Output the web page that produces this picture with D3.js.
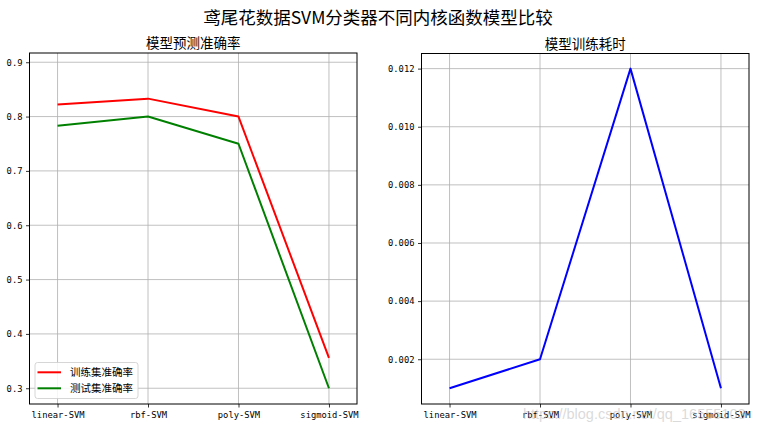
<!DOCTYPE html>
<html>
<head>
<meta charset="utf-8">
<script src="https://cdn.jsdelivr.net/npm/d3@7"></script>
<style>
  html, body { margin: 0; padding: 0; background: #fff; }
  svg { display: block; }
</style>
</head>
<body>
<svg id="chart" width="776" height="431"></svg>
<script>
const categories = ["linear-SVM", "rbf-SVM", "poly-SVM", "sigmoid-SVM"];
const trainAcc = [0.822, 0.833, 0.800, 0.356];
const testAcc = [0.783, 0.800, 0.750, 0.300];
const trainTime = [0.001, 0.002, 0.012, 0.001];
const accTicks = [0.3, 0.4, 0.5, 0.6, 0.7, 0.8, 0.9];
const timeTicks = [0.002, 0.004, 0.006, 0.008, 0.010, 0.012];
const mainTitle = "鸢尾花数据SVM分类器不同内核函数模型比较";
const leftTitle = "模型预测准确率";
const rightTitle = "模型训练耗时";
const legendLabels = ["训练集准确率", "测试集准确率"];
const watermark = "https://blog.csdn.net/qq_16555103";

const svg = d3.select("#chart");
const cjk = "'Noto Sans CJK SC', 'Noto Sans', sans-serif";
const mono = "'DejaVu Sans Mono', 'Liberation Mono', monospace";

svg.append("text")
  .attr("x", 378).attr("y", 23.5)
  .attr("text-anchor", "middle")
  .attr("font-family", cjk).attr("font-size", 17.5)
  .attr("fill", "#000")
  .text(mainTitle);

function panel(opts) {
  const { x0, x1, y0, y1, yDomain, ticks, fmt, title, series } = opts;
  const g = svg.append("g");
  const x = d3.scaleLinear().domain([-0.31, 3.31]).range([x0, x1]);
  const y = d3.scaleLinear().domain(yDomain).range([y1, y0]);

  // grid
  g.append("g").selectAll("line.vx").data(categories).join("line")
    .attr("x1", (d, i) => x(i)).attr("x2", (d, i) => x(i))
    .attr("y1", y0).attr("y2", y1)
    .attr("stroke", "#b0b0b0").attr("stroke-width", 0.8);
  g.append("g").selectAll("line.hy").data(ticks).join("line")
    .attr("x1", x0).attr("x2", x1)
    .attr("y1", d => y(d)).attr("y2", d => y(d))
    .attr("stroke", "#b0b0b0").attr("stroke-width", 0.8);

  // lines
  const line = d3.line().x((d, i) => x(i)).y(d => y(d));
  series.forEach(s => {
    g.append("path").datum(s.values)
      .attr("d", line)
      .attr("fill", "none")
      .attr("stroke", s.color)
      .attr("stroke-width", 2)
      .attr("stroke-linejoin", "round");
  });

  // axes
  const xAxis = d3.axisBottom(x).tickValues(d3.range(categories.length))
    .tickFormat(i => categories[i]).tickSize(3.5).tickPadding(4);
  const gx = g.append("g").attr("transform", `translate(0,${y1})`).call(xAxis);
  gx.select(".domain").remove();
  gx.selectAll("text").attr("font-family", mono).attr("font-size", 8.8).attr("fill", "#000");
  gx.selectAll("line").attr("stroke", "#000").attr("stroke-width", 0.8);

  const yAxis = d3.axisLeft(y).tickValues(ticks).tickFormat(fmt).tickSize(3.5).tickPadding(3.5);
  const gy = g.append("g").attr("transform", `translate(${x0},0)`).call(yAxis);
  gy.select(".domain").remove();
  gy.selectAll("text").attr("font-family", mono).attr("font-size", 8.8).attr("fill", "#000");
  gy.selectAll("line").attr("stroke", "#000").attr("stroke-width", 0.8);

  // frame
  g.append("rect")
    .attr("x", x0).attr("y", y0)
    .attr("width", x1 - x0).attr("height", y1 - y0)
    .attr("fill", "none").attr("stroke", "#000").attr("stroke-width", 1);

  g.append("text")
    .attr("x", (x0 + x1) / 2).attr("y", y0 - 5)
    .attr("text-anchor", "middle")
    .attr("font-family", cjk).attr("font-size", 13.5)
    .attr("fill", "#000")
    .text(title);
  return { g, x, y };
}

const left = panel({
  x0: 29.5, x1: 357, y0: 53, y1: 404,
  yDomain: [0.271, 0.917], ticks: accTicks, fmt: d3.format(".1f"),
  title: leftTitle,
  series: [
    { values: trainAcc, color: "#ff0000" },
    { values: testAcc, color: "#008000" }
  ]
});

panel({
  x0: 421.5, x1: 749, y0: 53.5, y1: 404,
  yDomain: [0.00046, 0.01252], ticks: timeTicks, fmt: d3.format(".3f"),
  title: rightTitle,
  series: [{ values: trainTime, color: "#0000ff" }]
});

// legend
const lg = svg.append("g");
lg.append("rect")
  .attr("x", 35).attr("y", 362.5).attr("width", 103).attr("height", 36)
  .attr("rx", 2.5)
  .attr("fill", "#fff").attr("fill-opacity", 0.85)
  .attr("stroke", "#cccccc").attr("stroke-width", 0.8);
const legendColors = ["#ff0000", "#008000"];
legendLabels.forEach((lab, i) => {
  const yy = 372.3 + i * 16;
  lg.append("line")
    .attr("x1", 37.5).attr("x2", 61).attr("y1", yy).attr("y2", yy)
    .attr("stroke", legendColors[i]).attr("stroke-width", 2);
  lg.append("text")
    .attr("x", 70).attr("y", yy + 3.8)
    .attr("font-family", cjk).attr("font-size", 10.5)
    .attr("fill", "#000")
    .text(lab);
});

// watermark
svg.append("text")
  .attr("x", 523).attr("y", 419)
  .attr("font-family", "'Liberation Sans', Arial, sans-serif")
  .attr("font-size", 14.5)
  .attr("fill", "#bbbbbb").attr("fill-opacity", 0.55)
  .text(watermark);
</script>
</body>
</html>
